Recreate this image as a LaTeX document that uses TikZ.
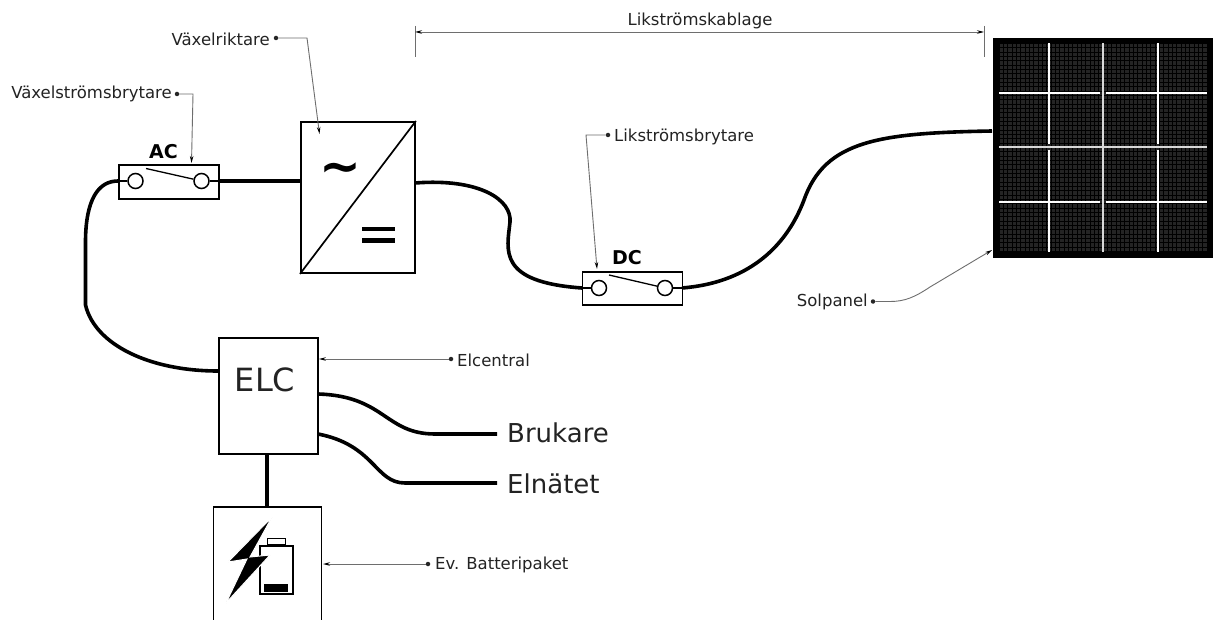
\documentclass[tikz,border=0pt]{standalone}
\usepackage{fontspec}
\setmainfont{DejaVu Sans}
\usepackage{tikz}
\usetikzlibrary{arrows.meta,positioning}
\definecolor{panelgray}{RGB}{36,36,36}
\definecolor{callgray}{RGB}{110,110,110}
\definecolor{textgray}{RGB}{35,35,35}

\begin{document}
\begin{tikzpicture}[
    x=1pt,y=-1pt,
    unit/.style={rectangle,draw,line width=1.9pt,inner sep=0pt,anchor=north west},
    wire/.style={line width=3.6pt},
    lead/.style={line width=1.3pt},
    contact/.style={circle,draw,line width=1.5pt,minimum size=15pt,inner sep=0pt,fill=white},
    tag/.style={font=\fontsize{16.5}{18}\selectfont,text=textgray,inner sep=0pt},
    big/.style={font=\fontsize{26}{28}\selectfont,text=textgray,inner sep=0pt,anchor=west},
    swname/.style={font=\bfseries\fontsize{19}{21}\selectfont,inner sep=0pt},
    call/.style={draw=callgray,line width=0.9pt},
    tipcall/.style={call,-{Stealth[black,length=7pt,width=3.5pt]}},
    dot/.style={circle,fill=black!85,minimum size=4.5pt,inner sep=0pt}
]
\clip (0,0) rectangle (1214,620);
\fill[white] (0,0) rectangle (1214,620);

% switches
\node[unit,minimum width=100pt,minimum height=34pt] (acbox) at (118,164) {};
\node[contact] (acl) at (135.5,181) {};
\node[contact] (acr) at (201.5,181) {};
\node[swname] (aclabel) at (163.5,152) {AC};
\coordinate (acarm) at (146,168.5);
\draw[lead] (acarm) -- (acr);
\draw[lead] (acbox.west |- acl) -- (acl);
\draw[lead] (acr) -- (acbox.east |- acr);

\node[unit,minimum width=100pt,minimum height=33pt] (dcbox) at (581.5,271) {};
\node[contact] (dcl) at (599,288) {};
\node[contact] (dcr) at (665,288) {};
\node[swname] (dclabel) at (627,258) {DC};
\coordinate (dcarm) at (609,275);
\draw[lead] (dcarm) -- (dcr);
\draw[lead] (dcbox.west |- dcl) -- (dcl);
\draw[lead] (dcr) -- (dcbox.east |- dcr);

% inverter
\node[unit,minimum width=114pt,minimum height=151pt] (inv) at (300,121) {};
\draw[line width=1.7pt] (inv.south west) -- (inv.north east);
\node[font=\bfseries\fontsize{50}{50}\selectfont,inner sep=0pt] (invac) at (340,173) {\textasciitilde};
\node[minimum width=33pt,minimum height=4pt,inner sep=0pt,fill=black] (invdc1) at (378,229) {};
\node[minimum width=33pt,minimum height=4pt,inner sep=0pt,fill=black] (invdc2) at (378,240.5) {};

% distribution board and battery
\node[unit,minimum width=99pt,minimum height=116pt] (elc) at (218,337) {};
\node[font=\fontsize{32}{34}\selectfont,text=textgray,inner sep=0pt] (elctext) at (265,380) {ELC};
\node[unit,minimum width=108pt,minimum height=130pt] (batt) at (212.5,506) {};
\node[draw,line width=1.7pt,minimum width=33pt,minimum height=48pt,inner sep=0pt,anchor=north west] (cell) at (259,545) {};
\node[draw,line width=1.1pt,minimum width=18pt,minimum height=6pt,inner sep=0pt,anchor=south] (cellcap) at (cell.north) {};
\node[fill=black,minimum width=24pt,minimum height=8pt,inner sep=0pt,anchor=south] (cellfill) at ([yshift=3pt]cell.south) {};
\fill[black,draw=white,line width=1pt] (272,517) -- (228,562) -- (247,559) -- (226,603) -- (270,555) -- (250,557) -- cycle;

% solar panel
\node[rectangle,fill=black,minimum size=220pt,inner sep=0pt,anchor=north west] (panel) at (992.5,37.5) {};
\fill[panelgray] (999,43.5) rectangle (1207,251.5);
\foreach \i in {0,...,48} {
    \draw[black,line width=0.7pt] (999+\i*4.33,43.5) -- (999+\i*4.33,251.5);
    \draw[black,line width=0.7pt] (999,43.5+\i*4.33) -- (1207,43.5+\i*4.33);
}
\foreach \xv in {1048.5,1158} {
    \draw[white,line width=2pt] (\xv,43.5) -- (\xv,144.5);
    \draw[white,line width=2pt] (\xv,150) -- (\xv,251.5);
}
\foreach \yv in {92.8,202} {
    \draw[white,line width=2pt] (999,\yv) -- (1100,\yv);
    \draw[white,line width=2pt] (1106,\yv) -- (1207,\yv);
}
\draw[black!15,line width=2pt] (1103.3,43.5) -- (1103.3,251.5);
\draw[black!15,line width=2pt] (999,147.3) -- (1207,147.3);

% wires
\coordinate (elcin) at (218,371);
\coordinate (elcbruk) at (318,394);
\coordinate (elceln) at (318,434);
\coordinate (invout) at (415,183);
\coordinate (dcin) at (582,288);
\coordinate (dcout) at (682,288);
\coordinate (panelin) at (992,131);
\coordinate (battwire) at (267,453);
\coordinate (brukend) at (497,434);
\coordinate (elnend) at (497,483);
\draw[wire] (acbox.west |- acl) .. controls (98,181) and (86,200) .. (85.5,240) -- (85.5,305)
    .. controls (95,345) and (150,371) .. (elc.west |- elcin);
\draw[wire] (acbox.east |- acr) -- (inv.west |- acr);
\draw[wire] (invout) .. controls (480,178) and (512,200) .. (510,222)
    .. controls (507,250) and (497,282) .. (dcin);
\draw[wire] (dcout) .. controls (745,283) and (785,250) .. (804,200)
    .. controls (825,140) and (880,133) .. (panelin);
\draw[wire] (elcbruk) .. controls (385,396) and (385,434) .. (435,434) -- (brukend);
\draw[wire] (elceln) .. controls (375,445) and (375,483) .. (405,483) -- (elnend);
\draw[wire] (battwire) -- (battwire |- batt.north);
\node[big] (bruk) at (507,433) {Brukare};
\node[big] (eln) at (507,484) {Elnätet};

% callouts
\node[tag,anchor=east] (vxr) at (270,39) {Växelriktare};
\node[dot] (vxrdot) at (276,38) {};
\coordinate (vxrend) at (319.5,134);
\draw[tipcall] (vxrdot) -- (307,38) -- (vxrend);

\node[tag,anchor=east] (vsb) at (172,94) {Växelströmsbrytare};
\node[dot] (vsbdot) at (177,94) {};
\coordinate (vsbend) at (191.5,163);
\draw[tipcall] (vsbdot) -- (193,94) -- (vsbend);

\node[tag,anchor=west] (lsb) at (614,137) {Likströmsbrytare};
\node[dot] (lsbdot) at (608,135) {};
\coordinate (lsbend) at (597,269);
\draw[tipcall] (lsbdot) -- (586,135) -- (lsbend);

\node[tag,anchor=south] (lkb) at (700,29) {Likströmskablage};
\coordinate (lkbl) at (415,26);
\coordinate (lkbll) at (415,57);
\coordinate (lkbr) at (984,26);
\coordinate (lkbrr) at (984,57);
\coordinate (lkbml) at (415,32);
\coordinate (lkbmr) at (984,32);
\draw[call] (lkbl) -- (lkbll);
\draw[call] (lkbr) -- (lkbrr);
\draw[call,{Stealth[black,length=7pt,width=3.5pt]}-{Stealth[black,length=7pt,width=3.5pt]}] (lkbml) -- (lkbmr);

\node[tag,anchor=east] (sol) at (868,302) {Solpanel};
\node[dot] (soldot) at (873,301.5) {};
\coordinate (solend) at (992,250);
\draw[tipcall] (soldot) -- (890,301.5) .. controls (905,301.5) and (915,297) .. (930,287) -- (solend);

\node[tag,anchor=west] (elct) at (457,360) {Elcentral};
\node[dot] (elcdot) at (451,359) {};
\draw[tipcall] (elcdot) -- (elc.east |- elcdot);

\node[tag,anchor=west] (batttext) at (435,565) {Ev. Batteripaket};
\node[dot] (battdot) at (428,564) {};
\coordinate (battend) at (323,564);
\draw[tipcall] (battdot) -- (battend);
\end{tikzpicture}
\end{document}
